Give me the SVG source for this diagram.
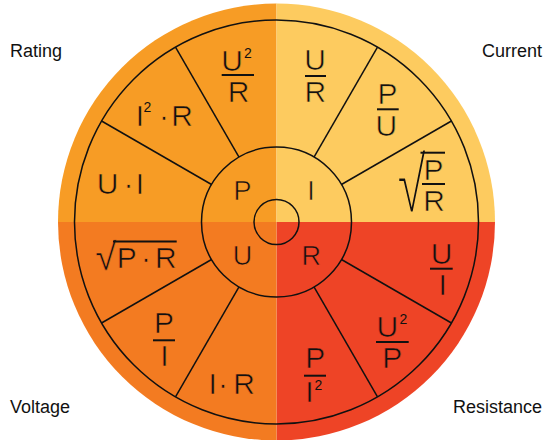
<svg xmlns="http://www.w3.org/2000/svg" width="557" height="440" viewBox="0 0 557 440">
<style>
.t{font-family:"Liberation Sans",Arial,sans-serif;fill:#111;font-size:30px;text-anchor:middle;stroke-width:0.6}
.m{font-size:27px}
.s{font-size:14px;stroke:none}
.rad{font-size:38.5px;text-anchor:start}
.lab{font-family:"Liberation Sans",Arial,sans-serif;fill:#111;font-size:18px}
.ln{stroke:#111;stroke-width:1.5;fill:none}
.bar{stroke:#111;stroke-width:2}
#rating .t{stroke:#F79C25}
#current .t{stroke:#FDCB5F}
#voltage .t{stroke:#F37B21}
#resistance .t{stroke:#EE4426}
#current .tall{stroke-width:1;letter-spacing:-3.5px}
</style>
<rect width="557" height="440" fill="#fff"/>
<g id="quadrants">
<path id="q-rating" d="M276.5,222 L58,222 A218.5,218.5 0 0 1 276.5,3.5 Z" fill="#F79C25"/>
<path id="q-current" d="M276.5,222 L276.5,3.5 A218.5,218.5 0 0 1 495,222 Z" fill="#FDCB5F"/>
<path id="q-resistance" d="M276.5,222 L495,222 A218.5,218.5 0 0 1 276.5,440.5 Z" fill="#EE4426"/>
<path id="q-voltage" d="M276.5,222 L276.5,440.5 A218.5,218.5 0 0 1 58,222 Z" fill="#F37B21"/>
</g>
<g id="lines">
<circle class="ln" cx="276.5" cy="222" r="202"/>
<circle class="ln" cx="276.5" cy="222" r="75"/>
<circle class="ln" cx="276.5" cy="222" r="22.5"/>
<line class="ln" x1="341.45" y1="184.5" x2="451.44" y2="121"/>
<line class="ln" x1="314" y1="157.05" x2="377.5" y2="47.06"/>
<line class="ln" x1="239" y1="157.05" x2="175.5" y2="47.06"/>
<line class="ln" x1="211.55" y1="184.5" x2="101.56" y2="121"/>
<line class="ln" x1="211.55" y1="259.5" x2="101.56" y2="323"/>
<line class="ln" x1="239" y1="286.95" x2="175.5" y2="396.94"/>
<line class="ln" x1="314" y1="286.95" x2="377.5" y2="396.94"/>
<line class="ln" x1="341.45" y1="259.5" x2="451.44" y2="323"/>
</g>
<g id="rating">
<text class="lab" x="10" y="57">Rating</text>
<text class="t m" x="242.5" y="200">P</text>
<text class="t"><tspan x="232" y="71">U</tspan><tspan class="s" x="248" y="58">2</tspan></text>
<line class="bar" x1="221.7" y1="75" x2="254" y2="75"/>
<text class="t" x="238.5" y="102">R</text>
<text class="t"><tspan x="140" y="125.7">I</tspan><tspan class="s" x="147.5" y="112">2</tspan><tspan x="164" y="125.7">·</tspan><tspan x="182" y="125.7">R</tspan></text>
<text class="t"><tspan x="107.5" y="194">U</tspan><tspan x="128.5" y="194">·</tspan><tspan x="140" y="194">I</tspan></text>
</g>
<g id="current">
<text class="lab" x="542" y="57" text-anchor="end">Current</text>
<text class="t m" x="311" y="200">I</text>
<text class="t" x="315" y="70">U</text>
<line class="bar" x1="305" y1="76" x2="326" y2="76"/>
<text class="t" x="315.3" y="102.3">R</text>
<text class="t" x="387.5" y="104">P</text>
<line class="bar" x1="377" y1="109.3" x2="398.7" y2="109.3"/>
<text class="t" x="386.3" y="136">U</text>
<text class="t rad tall" x="0" y="0" transform="translate(397.3,211.5) scale(1.36,2.05)">√</text>
<line class="bar" x1="420.5" y1="152.7" x2="445" y2="152.7"/>
<text class="t" x="433.5" y="180">P</text>
<line class="bar" x1="422" y1="184" x2="445" y2="184"/>
<text class="t" x="434" y="210.7">R</text>
</g>
<g id="voltage">
<text class="lab" x="10" y="413">Voltage</text>
<text class="t m" x="242.5" y="264.7">U</text>
<text class="t rad" x="95.2" y="269.5">√</text>
<line class="bar" x1="113" y1="241.5" x2="176.7" y2="241.5"/>
<text class="t"><tspan x="126.7" y="268.3">P</tspan><tspan x="146">·</tspan><tspan x="165.8">R</tspan></text>
<text class="t" x="164" y="333">P</text>
<line class="bar" x1="153" y1="340.3" x2="175" y2="340.3"/>
<text class="t" x="164.3" y="366">I</text>
<text class="t"><tspan x="212.7" y="394">I</tspan><tspan x="223">·</tspan><tspan x="244">R</tspan></text>
</g>
<g id="resistance">
<text class="lab" x="542" y="413" text-anchor="end">Resistance</text>
<text class="t m" x="311.2" y="264.7">R</text>
<text class="t" x="441.5" y="263.7">U</text>
<line class="bar" x1="430" y1="268.7" x2="452.7" y2="268.7"/>
<text class="t" x="442.7" y="295.3">I</text>
<text class="t"><tspan x="387.3" y="337.3">U</tspan><tspan class="s" x="403.3" y="324">2</tspan></text>
<line class="bar" x1="376" y1="342" x2="408.7" y2="342"/>
<text class="t" x="392.3" y="368">P</text>
<text class="t" x="315.3" y="368">P</text>
<line class="bar" x1="304" y1="375.7" x2="326" y2="375.7"/>
<text class="t"><tspan x="309.3" y="402.3">I</tspan><tspan class="s" x="318.5" y="390">2</tspan></text>
</g>
</svg>
